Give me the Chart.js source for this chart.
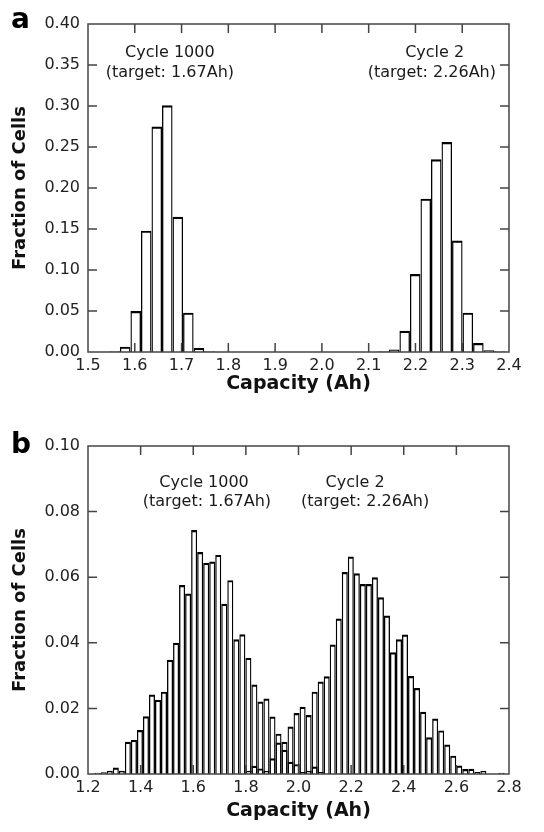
<!DOCTYPE html>
<html>
<head>
<meta charset="utf-8">
<script src="https://cdn.jsdelivr.net/npm/chart.js@4.4.1/dist/chart.umd.min.js"></script>
<style>
  body { margin: 0; background: #fff; }
  .panel { width: 544px; height: 416px; }
</style>
</head>
<body>
<div class="panel"><canvas id="panelA" width="544" height="416"></canvas></div>
<div class="panel"><canvas id="panelB" width="544" height="416"></canvas></div>
<script>
// panel a - capacity histograms, coarse bins
var binWidthA = 0.0225;
var cycle1000StartA = 1.557;   // centre of first bin
var cycle1000A = [0.001, 0.0065, 0.050, 0.148, 0.275, 0.301, 0.165, 0.048, 0.005, 0.001];
var cycle2StartA = 2.132;
var cycle2A = [0.001, 0.003, 0.026, 0.095, 0.187, 0.235, 0.256, 0.136, 0.048, 0.011, 0.002, 0.001];
var xTicksA = [1.5, 1.6, 1.7, 1.8, 1.9, 2.0, 2.1, 2.2, 2.3, 2.4];
var yTicksA = [0, 0.05, 0.10, 0.15, 0.20, 0.25, 0.30, 0.35, 0.40];

// panel b - same cells, fine bins (cycle 2 starts 25 bins after cycle 1000)
var binWidthB = 0.0229;
var cycle1000StartB = 1.237;
var cycle1000B = [0.0004, 0.0005, 0.0010, 0.0020, 0.0010, 0.0098, 0.0104, 0.0134, 0.0176, 0.0242,
                  0.0226, 0.0251, 0.0348, 0.0400, 0.0576, 0.0550, 0.0744, 0.0677, 0.0644, 0.0648,
                  0.0668, 0.0519, 0.0591, 0.0411, 0.0426, 0.0354, 0.0273, 0.0221, 0.0230, 0.0175,
                  0.0123, 0.0074, 0.0037, 0.0030, 0.0006, 0.0010, 0.0023, 0.0006];
var cycle2OffsetB = 25;
var cycle2B = [0.0010, 0.0025, 0.0017, 0.0010, 0.0048, 0.0096, 0.0098, 0.0145, 0.0186, 0.0205,
               0.0180, 0.0251, 0.0282, 0.0298, 0.0395, 0.0474, 0.0616, 0.0663, 0.0612, 0.0579,
               0.0579, 0.0600, 0.0539, 0.0483, 0.0371, 0.0411, 0.0425, 0.0299, 0.0262, 0.0190,
               0.0112, 0.0169, 0.0133, 0.0090, 0.0056, 0.0026, 0.0015, 0.0016, 0.0006, 0.0010,
               0, 0, 0.0004];
var xTicksB = [1.2, 1.4, 1.6, 1.8, 2.0, 2.2, 2.4, 2.6, 2.8];
var yTicksB = [0, 0.02, 0.04, 0.06, 0.08, 0.10];

function toPoints(start, width, offset, values) {
    return values.map(function (v, i) {
        return { x: start + (offset + i) * width, y: v };
    });
}

// frame, inward ticks, the two notes and the panel letter
var framePlugin = {
    id: 'frame',
    afterDatasetsDraw: function (chart, args, opts) {
        var ctx = chart.ctx, a = chart.chartArea;
        var xs = chart.scales.x, ys = chart.scales.y;
        ctx.save();
        ctx.strokeStyle = '#444';
        ctx.lineWidth = 1.5;
        ctx.beginPath();
        xs.ticks.forEach(function (t) {
            var px = xs.getPixelForValue(t.value);
            if (px < a.left + 2 || px > a.right - 2) return;
            ctx.moveTo(px, a.bottom); ctx.lineTo(px, a.bottom - 9);
            ctx.moveTo(px, a.top); ctx.lineTo(px, a.top + 9);
        });
        ys.ticks.forEach(function (t) {
            var py = ys.getPixelForValue(t.value);
            if (py < a.top + 2 || py > a.bottom - 2) return;
            ctx.moveTo(a.left, py); ctx.lineTo(a.left + 9, py);
            ctx.moveTo(a.right, py); ctx.lineTo(a.right - 9, py);
        });
        ctx.stroke();
        ctx.strokeRect(a.left, a.top, a.right - a.left, a.bottom - a.top);

        ctx.fillStyle = '#1a1a1a';
        ctx.font = '16px "DejaVu Sans"';
        ctx.textAlign = 'center';
        ctx.textBaseline = 'middle';
        opts.notes.forEach(function (n) {
            ctx.fillText(n.text, xs.getPixelForValue(n.x), ys.getPixelForValue(n.y));
        });
        ctx.font = 'bold 28px "DejaVu Sans"';
        ctx.textAlign = 'left';
        ctx.textBaseline = 'alphabetic';
        ctx.fillStyle = '#000';
        ctx.fillText(opts.letter, 11, opts.letterY);
        ctx.restore();
    }
};

function makePanel(canvasId, p) {
    var barStyle = {
        backgroundColor: 'rgba(255,255,255,0)',
        borderColor: '#000',
        borderWidth: { top: 2.2, left: 1.3, right: 1.3, bottom: 0 },
        borderSkipped: 'start',
        inflateAmount: 0,
        barPercentage: 1,
        categoryPercentage: 1,
        grouped: false
    };
    return new Chart(document.getElementById(canvasId), {
        type: 'bar',
        data: {
            datasets: [
                Object.assign({ label: 'Cycle 1000', data: p.cycle1000 }, barStyle),
                Object.assign({ label: 'Cycle 2', data: p.cycle2 }, barStyle)
            ]
        },
        options: {
            responsive: false,
            animation: false,
            devicePixelRatio: 1,
            layout: { padding: p.padding },
            plugins: {
                legend: { display: false },
                tooltip: { enabled: false },
                frame: { notes: p.notes, letter: p.letter, letterY: p.letterY }
            },
            scales: {
                x: {
                    type: 'linear',
                    offset: false,
                    min: p.xTicks[0],
                    max: p.xTicks[p.xTicks.length - 1],
                    afterBuildTicks: function (scale) {
                        scale.ticks = p.xTicks.map(function (v) { return { value: v }; });
                    },
                    afterFit: function (scale) { scale.height = p.xAxisHeight; },
                    grid: { display: false, drawTicks: false },
                    border: { display: false },
                    ticks: {
                        padding: 4,
                        color: '#222',
                        font: { family: 'DejaVu Sans', size: 16 },
                        maxRotation: 0,
                        autoSkip: false,
                        callback: function (v) { return v.toFixed(1); }
                    },
                    title: {
                        display: true,
                        text: 'Capacity (Ah)',
                        color: '#111',
                        font: { family: 'DejaVu Sans', size: 19, weight: 'bold' },
                        padding: { top: 0, bottom: 0.6 }
                    }
                },
                y: {
                    min: p.yTicks[0],
                    max: p.yTicks[p.yTicks.length - 1],
                    afterBuildTicks: function (scale) {
                        scale.ticks = p.yTicks.map(function (v) { return { value: v }; });
                    },
                    afterFit: function (scale) { scale.width = 88; },
                    grid: { display: false, drawTicks: false },
                    border: { display: false },
                    ticks: {
                        padding: 8,
                        color: '#222',
                        font: { family: 'DejaVu Sans', size: 16 },
                        autoSkip: false,
                        callback: function (v) { return v.toFixed(2); }
                    },
                    title: {
                        display: true,
                        text: 'Fraction of Cells',
                        color: '#111',
                        font: { family: 'DejaVu Sans', size: 18, weight: 'bold' },
                        padding: { top: 10, bottom: 0 }
                    }
                }
            }
        },
        plugins: [framePlugin]
    });
}

makePanel('panelA', {
    cycle1000: toPoints(cycle1000StartA, binWidthA, 0, cycle1000A),
    cycle2: toPoints(cycle2StartA, binWidthA, 0, cycle2A),
    xTicks: xTicksA,
    yTicks: yTicksA,
    padding: { top: 24, right: 35, bottom: 20, left: 0 },
    xAxisHeight: 44,
    letter: 'a',
    letterY: 28,
    notes: [
        { text: 'Cycle 1000', x: 1.675, y: 0.365 },
        { text: '(target: 1.67Ah)', x: 1.675, y: 0.341 },
        { text: 'Cycle 2', x: 2.241, y: 0.365 },
        { text: '(target: 2.26Ah)', x: 2.235, y: 0.341 }
    ]
});

makePanel('panelB', {
    cycle1000: toPoints(cycle1000StartB, binWidthB, 0, cycle1000B),
    cycle2: toPoints(cycle1000StartB, binWidthB, cycle2OffsetB, cycle2B),
    xTicks: xTicksB,
    yTicks: yTicksB,
    padding: { top: 30, right: 35, bottom: 8.6, left: 0 },
    xAxisHeight: 49.4,
    letter: 'b',
    letterY: 37,
    notes: [
        { text: 'Cycle 1000', x: 1.641, y: 0.0887 },
        { text: '(target: 1.67Ah)', x: 1.652, y: 0.0829 },
        { text: 'Cycle 2', x: 2.215, y: 0.0887 },
        { text: '(target: 2.26Ah)', x: 2.253, y: 0.0829 }
    ]
});
</script>
</body>
</html>
